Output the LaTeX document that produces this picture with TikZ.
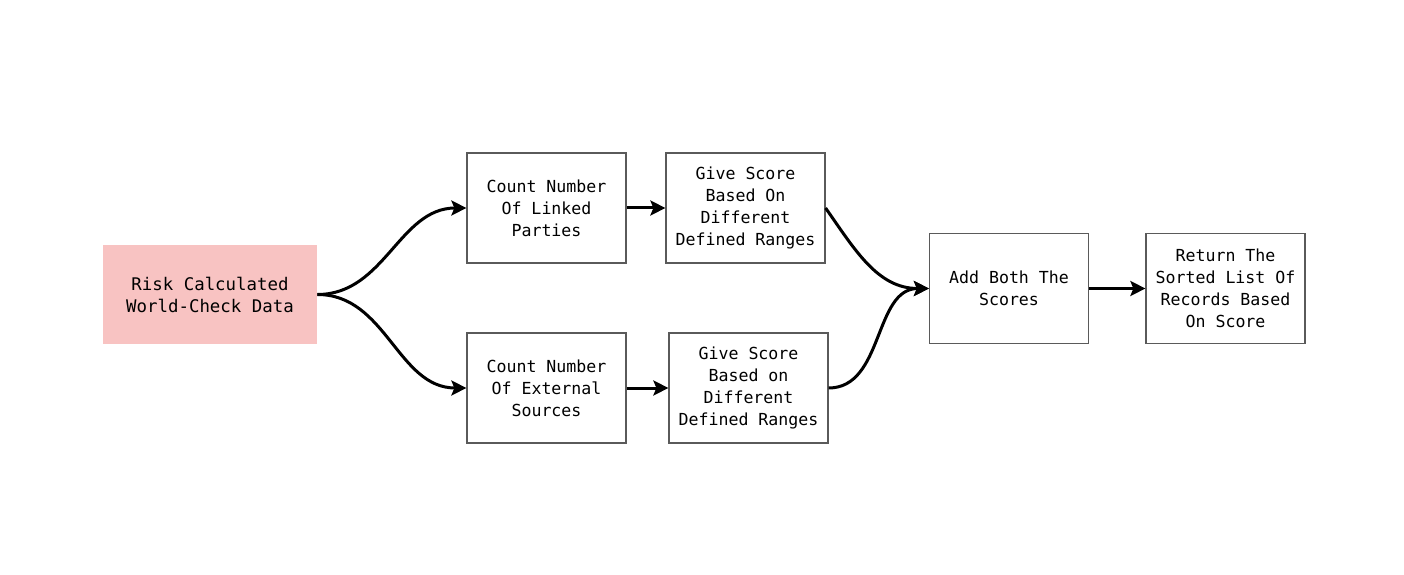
\documentclass[tikz,border=0pt]{standalone}
\usepackage{fontspec}
\setmonofont{DejaVu Sans Mono}
\usetikzlibrary{arrows.meta,positioning}
\definecolor{riskpink}{HTML}{F8C3C2}
\definecolor{boxgray}{HTML}{5A5A5A}

\begin{document}
\begin{tikzpicture}[x=0.5pt,y=0.5pt,
    box/.style={draw=boxgray,line width=0.6pt,minimum width=79.5pt,minimum height=55pt,
        align=center,inner sep=0pt,font=\ttfamily\fontsize{8.3}{11}\selectfont},
    flow/.style={line width=1.5pt,-{Stealth[length=7.5pt,width=7.5pt,inset=1.5pt]}}]
    % Canvas (reference margins)
    \useasboundingbox[fill=white] (0,0) rectangle (1404,574);

    % Input data
    \node[fill=riskpink,minimum width=107pt,minimum height=49.5pt,align=center,
        inner sep=0pt,font=\ttfamily\fontsize{8.7}{11}\selectfont]
        (risk) at (210,279.5) {Risk Calculated\\World-Check Data};

    % Upper branch: linked parties
    \node[box] (linked) at (546.5,366) {Count Number\\Of Linked\\Parties};
    \node[box] (score1) at (745.5,366) {Give Score\\Based On\\Different\\Defined Ranges};

    % Lower branch: external sources
    \node[box] (external) at (546.5,186) {Count Number\\Of External\\Sources};
    \node[box] (score2) at (748.5,186) {Give Score\\Based on\\Different\\Defined Ranges};

    % Merge and output
    \node[box] (add) at (1009,285.5) {Add Both The\\Scores};
    \node[box] (ret) at (1225.5,285.5) {Return The\\Sorted List Of\\Records Based\\On Score};

    % Connectors
    \draw[flow] (risk.east) to[out=0,in=180] (linked.west);
    \draw[flow] (risk.east) to[out=0,in=180] (external.west);
    \draw[flow] (linked) -- (score1);
    \draw[flow] (external) -- (score2);
    \draw[flow] (score1.east) to[out=-55,in=180] (add.west);
    \draw[flow] (score2.east) to[out=0,in=180] (add.west);
    \draw[flow] (add) -- (ret);
\end{tikzpicture}
\end{document}
